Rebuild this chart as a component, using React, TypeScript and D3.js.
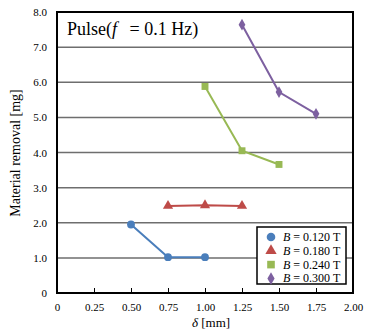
import React, { useRef, useEffect } from 'react';
import * as d3 from 'd3';

// series data
const seriesNames = ['0.120', '0.180', '0.240', '0.300'];
const seriesColors = ['#4a7ebb', '#be4b48', '#98b954', '#7d60a0'];
const seriesSymbols = [d3.symbolCircle, d3.symbolTriangle, d3.symbolSquare, d3.symbolDiamond];
const xB120 = [0.5, 0.75, 1.0];
const yB120 = [1.95, 1.02, 1.02];
const xB180 = [0.75, 1.0, 1.25];
const yB180 = [2.48, 2.5, 2.48];
const xB240 = [1.0, 1.25, 1.5];
const yB240 = [5.88, 4.05, 3.66];
const xB300 = [1.25, 1.5, 1.75];
const yB300 = [7.64, 5.72, 5.1];
const xTicks = [0, 0.25, 0.5, 0.75, 1.0, 1.25, 1.5, 1.75, 2.0];
const yTicks = [0, 1, 2, 3, 4, 5, 6, 7, 8];

const App = () => {
    const svgRef = useRef<SVGSVGElement>(null);
    const width = 366;
    const height = 331;

    useEffect(() => {
        const svg = d3.select(svgRef.current);
        svg.selectAll('*').remove();

        const left = 57, right = 353, top = 12, bottom = 293;
        const font = '"Liberation Serif", "Times New Roman", serif';

        const x = d3.scaleLinear().domain([0, 2]).range([left, right]);
        const y = d3.scaleLinear().domain([0, 8]).range([bottom, top]);

        // gridlines
        svg.append('g')
            .selectAll('line')
            .data(yTicks.filter(d => d > 0 && d < 8))
            .join('line')
            .attr('x1', left).attr('x2', right)
            .attr('y1', d => y(d)).attr('y2', d => y(d))
            .attr('stroke', '#6e6e6e')
            .attr('stroke-width', 1.5);

        // x axis (ticks inside)
        const xAxis = svg.append('g')
            .attr('transform', `translate(0,${bottom})`)
            .call(d3.axisBottom(x).tickValues(xTicks).tickSize(-5).tickPadding(10)
                .tickFormat(d => (d === 0 ? '0' : d3.format('.2f')(d as number))));
        xAxis.select('.domain').remove();
        xAxis.selectAll('line').attr('stroke', '#000').attr('stroke-width', 1);
        xAxis.selectAll('text').style('font-family', font).style('font-size', '11px').attr('fill', '#000');

        const yAxis = svg.append('g')
            .attr('transform', `translate(${left},0)`)
            .call(d3.axisLeft(y).tickValues(yTicks).tickSize(0).tickPadding(10)
                .tickFormat(d => (d === 0 ? '0' : d3.format('.1f')(d as number))));
        yAxis.select('.domain').remove();
        yAxis.selectAll('text').style('font-family', font).style('font-size', '11px').attr('fill', '#000');

        // frame
        svg.append('rect')
            .attr('x', left).attr('y', top)
            .attr('width', right - left).attr('height', bottom - top)
            .attr('fill', 'none')
            .attr('stroke', '#000')
            .attr('stroke-width', 2);

        // title
        const title = svg.append('text')
            .attr('x', 67).attr('y', 35)
            .style('font-family', font).style('font-size', '18px')
            .attr('fill', '#000');
        title.append('tspan').text('Pulse(');
        title.append('tspan').style('font-style', 'italic').text('f');
        title.append('tspan').attr('dx', 8).text(' = 0.1 Hz)');

        const allX = [xB120, xB180, xB240, xB300];
        const allY = [yB120, yB180, yB240, yB300];
        const line = d3.line<[number, number]>().x(d => x(d[0])).y(d => y(d[1]));

        allX.forEach((xs, i) => {
            const pts: [number, number][] = xs.map((v, j) => [v, allY[i][j]]);
            svg.append('path')
                .attr('d', line(pts))
                .attr('fill', 'none')
                .attr('stroke', seriesColors[i])
                .attr('stroke-width', 2);
            const sym = d3.symbol().type(seriesSymbols[i]).size(i === 1 ? 45 : i === 3 ? 40 : 48);
            svg.append('g')
                .selectAll('path')
                .data(pts)
                .join('path')
                .attr('transform', d => `translate(${x(d[0])},${y(d[1])})`)
                .attr('d', sym())
                .attr('fill', seriesColors[i]);
        });

        // legend
        const lg = svg.append('g').attr('transform', 'translate(257,227)');
        lg.append('rect')
            .attr('width', 89).attr('height', 57)
            .attr('fill', '#fff')
            .attr('stroke', '#000')
            .attr('stroke-width', 1.5);
        seriesNames.forEach((name, i) => {
            const row = lg.append('g').attr('transform', `translate(0,${10 + i * 13.8})`);
            row.append('path')
                .attr('transform', 'translate(14,0)')
                .attr('d', d3.symbol().type(seriesSymbols[i]).size(i === 1 ? 55 : i === 3 ? 45 : 58)())
                .attr('fill', seriesColors[i]);
            const t = row.append('text')
                .attr('x', 26).attr('y', 4)
                .style('font-family', font).style('font-size', '12px')
                .attr('fill', '#000');
            t.append('tspan').style('font-style', 'italic').text('B');
            t.append('tspan').text(` = ${name} T`);
        });

        // axis titles
        svg.append('text')
            .attr('transform', `translate(20,${153}) rotate(-90)`)
            .attr('text-anchor', 'middle')
            .style('font-family', font).style('font-size', '14px')
            .attr('fill', '#000')
            .text('Material removal [mg]');

        const xt = svg.append('text')
            .attr('x', 211).attr('y', 327)
            .attr('text-anchor', 'middle')
            .style('font-family', font).style('font-size', '13px')
            .attr('fill', '#000');
        xt.append('tspan').style('font-style', 'italic').text('δ');
        xt.append('tspan').text(' [mm]');
    }, []);

    return (
        <div>
            <svg ref={svgRef} width={width} height={height}
                style={{ position: 'absolute', left: 0, top: 0, background: '#fff' }} />
        </div>
    );
};

export default App;
